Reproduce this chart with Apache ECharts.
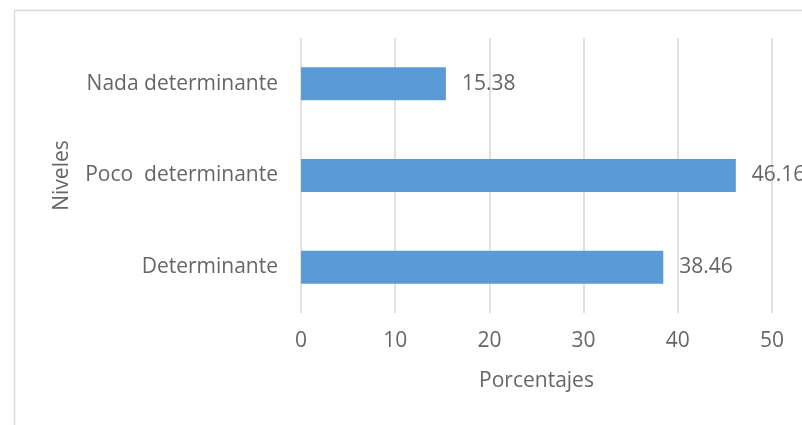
<!DOCTYPE html>
<html>
<head>
<meta charset="utf-8">
<script src="https://cdn.jsdelivr.net/npm/echarts@6/dist/echarts.min.js"></script>
<style>html,body{margin:0;padding:0;background:#fff;}#c{width:802px;height:425px;}</style>
</head>
<body>
<div id="c"></div>
<script>
const categories = ['Determinante', 'Poco  determinante', 'Nada determinante'];
const values = [38.46, 46.16, 15.38];
const xTicks = [0, 10, 20, 30, 40, 50];

const chart = echarts.init(document.getElementById('c'));
const font = '"Open Sans", "DejaVu Sans", sans-serif';
const txt = '#666666';
chart.setOption({
  animation: false,
  textStyle: { fontFamily: font },
  graphic: [{
    type: 'rect', left: 12, top: 8, shape: { width: 900, height: 500 },
    style: { fill: 'none', stroke: '#d9d9d9', lineWidth: 1.5 }, silent: true, z: -1
  }],
  grid: { left: 301, right: 30, top: 38, bottom: 112 },
  xAxis: {
    type: 'value', min: xTicks[0], max: xTicks[xTicks.length - 1], interval: 10,
    name: 'Porcentajes', nameLocation: 'middle', nameGap: 58,
    nameTextStyle: { fontSize: 21, color: txt, fontFamily: font },
    axisLine: { show: false }, axisTick: { show: false },
    axisLabel: { fontSize: 21, color: txt, margin: 18, fontFamily: font },
    splitLine: { show: true, lineStyle: { color: '#d9d9d9', width: 1.5 } }
  },
  yAxis: {
    type: 'category', data: categories,
    name: 'Niveles', nameLocation: 'middle', nameGap: 228, nameRotate: 90,
    nameTextStyle: { fontSize: 21, color: txt, fontFamily: font },
    axisLine: { show: false }, axisTick: { show: false },
    axisLabel: { fontSize: 21, color: txt, margin: 23, fontFamily: font },
    splitLine: { show: false }
  },
  series: [{
    type: 'bar', data: values, barWidth: 33,
    itemStyle: { color: '#5b9bd5' },
    label: { show: true, position: 'right', distance: 16, fontSize: 21, color: txt, fontFamily: font,
      formatter: p => p.value.toFixed(2) }
  }]
});
</script>
</body>
</html>
